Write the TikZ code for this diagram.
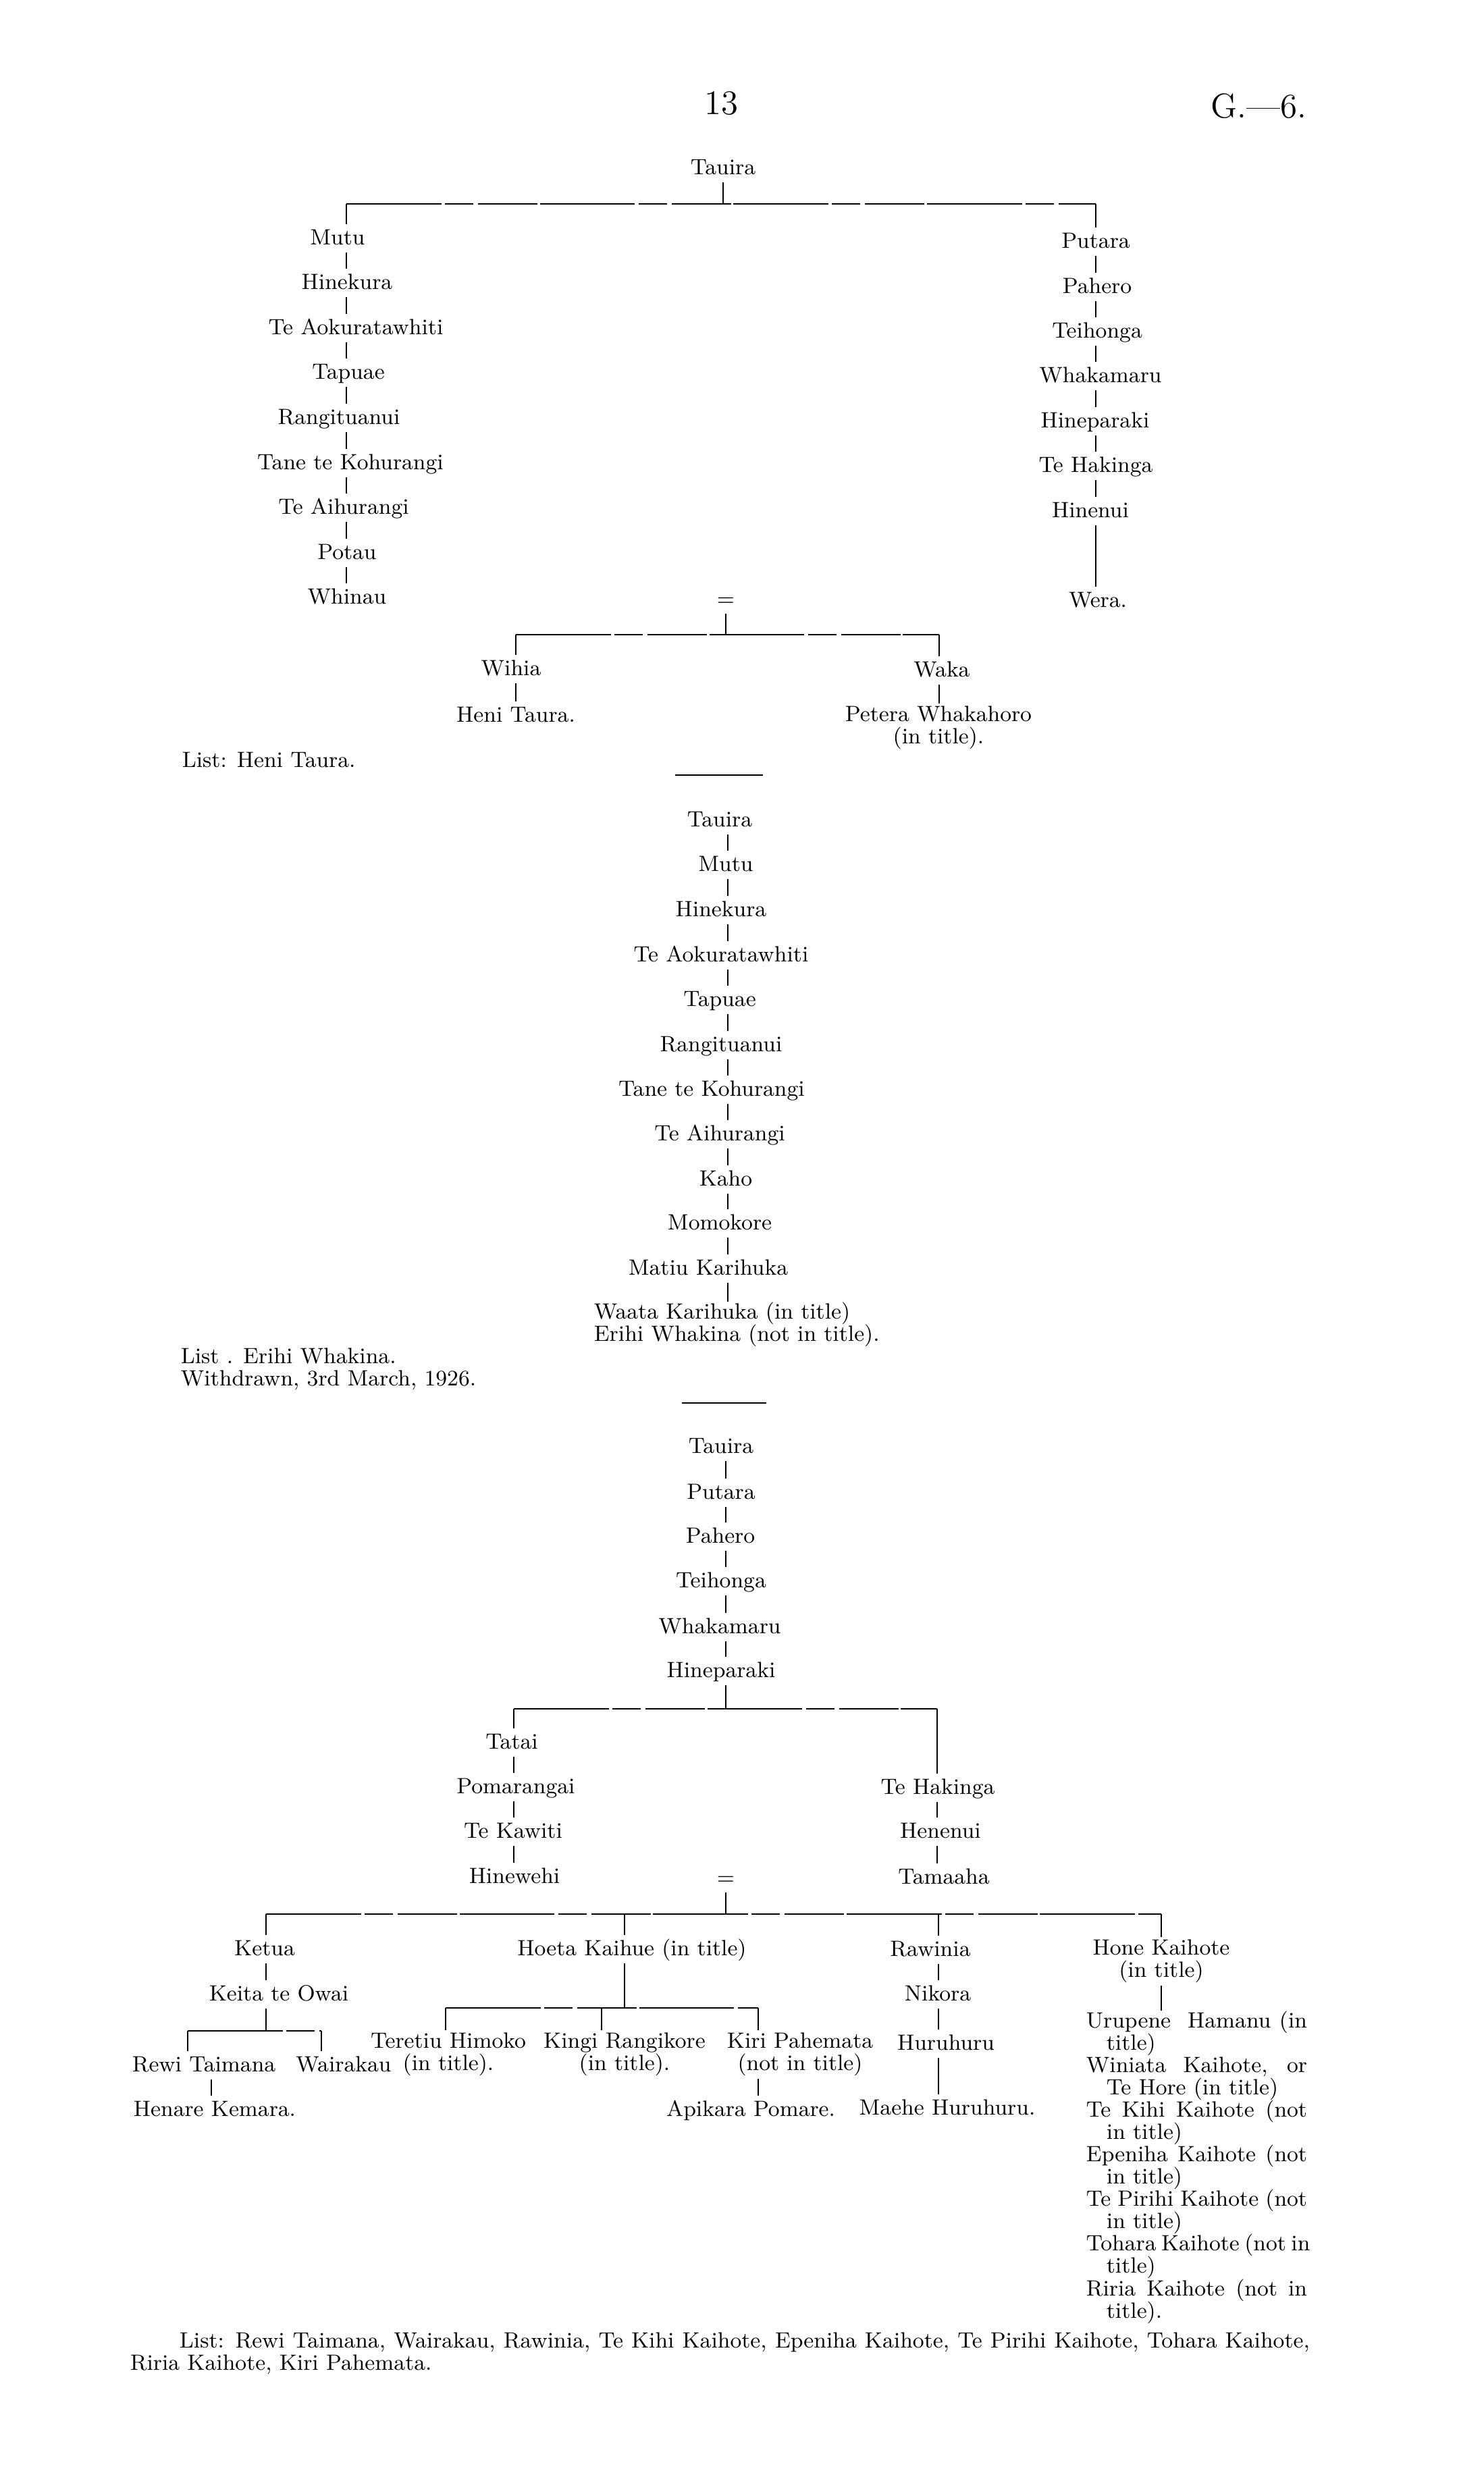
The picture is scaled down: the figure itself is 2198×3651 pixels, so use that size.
\documentclass[tikz,border=0pt]{standalone}
\usepackage{tikz}
\newcommand\genfont{\fontsize{9.3}{9.4}\selectfont}
\newcommand\headfont{\fontsize{14.5}{16}\selectfont}
\tikzset{
  person/.style={inner sep=1pt, text height=1.7ex, text depth=.45ex, font=\genfont},
  persons/.style={inner sep=1pt, align=center, font=\genfont},
  note/.style={inner sep=0pt, anchor=west, align=left, font=\genfont},
  bus/.style={line width=.4pt, dash pattern=on 40pt off 1.5pt on 12pt off 2pt on 25pt off 1pt},
  rule/.style={line width=.5pt}
}

\begin{document}
\begin{tikzpicture}[x=0.01cm, y=-0.01cm, line width=.5pt]
\fill[white] (0,0) rectangle (2198,3651);
\useasboundingbox (0,0) rectangle (2198,3651);

\node[font=\headfont, inner sep=0pt] (page) at (1068,153) {13};
\node[font=\headfont, inner sep=0pt] (series) at (1864,157) {G.---6.};

\node[person] (tauira1) at (1071,249) {Tauira};
\coordinate (bus1l) at (513,302);
\coordinate (bus1r) at (1623,302);
\draw[bus] (bus1l) -- (bus1r);
\draw (tauira1.south) -- (tauira1.south |- bus1l);

\node[person] (mutu1) at (500,353) {Mutu};
\node[person] (hinekura1) at (514,419) {Hinekura};
\node[person] (aoku1) at (527,486) {Te Aokuratawhiti};
\node[person] (tapuae1) at (516,552) {Tapuae};
\node[person] (rangi1) at (502,619) {Rangituanui};
\node[person] (tane1) at (519,686) {Tane te Kohurangi};
\node[person] (aihu1) at (509,752) {Te Aihurangi};
\node[person] (potau) at (514,819) {Potau};
\node[person] (whinau) at (514,885) {Whinau};
\draw (bus1l) -- (bus1l |- mutu1.north);
\draw (bus1l |- mutu1.south) -- (bus1l |- hinekura1.north);
\draw (bus1l |- hinekura1.south) -- (bus1l |- aoku1.north);
\draw (bus1l |- aoku1.south) -- (bus1l |- tapuae1.north);
\draw (bus1l |- tapuae1.south) -- (bus1l |- rangi1.north);
\draw (bus1l |- rangi1.south) -- (bus1l |- tane1.north);
\draw (bus1l |- tane1.south) -- (bus1l |- aihu1.north);
\draw (bus1l |- aihu1.south) -- (bus1l |- potau.north);
\draw (bus1l |- potau.south) -- (bus1l |- whinau.north);

\node[person] (putara1) at (1623,358) {Putara};
\node[person] (pahero1) at (1625,425) {Pahero};
\node[person] (teihonga1) at (1625,491) {Teihonga};
\node[person] (whaka1) at (1630,557) {Whakamaru};
\node[person] (hinep1) at (1622,624) {Hineparaki};
\node[person] (hakinga1) at (1623,690) {Te Hakinga};
\node[person] (hinenui) at (1615,757) {Hinenui};
\node[person] (wera) at (1626,890) {Wera.};
\draw (bus1r) -- (bus1r |- putara1.north);
\draw (bus1r |- putara1.south) -- (bus1r |- pahero1.north);
\draw (bus1r |- pahero1.south) -- (bus1r |- teihonga1.north);
\draw (bus1r |- teihonga1.south) -- (bus1r |- whaka1.north);
\draw (bus1r |- whaka1.south) -- (bus1r |- hinep1.north);
\draw (bus1r |- hinep1.south) -- (bus1r |- hakinga1.north);
\draw (bus1r |- hakinga1.south) -- (bus1r |- hinenui.north);
\draw (bus1r |- hinenui.south) -- (bus1r |- wera.north);

\node[person] (eq1) at (1075,888) {=};
\coordinate (bus2l) at (764,940);
\coordinate (bus2r) at (1391,940);
\draw[bus] (bus2l) -- (bus2r);
\draw (eq1.south) -- (eq1.south |- bus2l);
\node[person] (wihia) at (757,991) {Wihia};
\node[person] (heni) at (764,1060) {Heni Taura.};
\node[person] (waka) at (1395,993) {Waka};
\node[persons] (petera) at (1390,1078) {Petera Whakahoro\\(in title).};
\draw (bus2l) -- (bus2l |- wihia.north);
\draw (bus2l |- wihia.south) -- (bus2l |- heni.north);
\draw (bus2r) -- (bus2r |- waka.north);
\draw (bus2r |- waka.south) -- (bus2r |- petera.north);
\node[note] (list1) at (269,1125) {List: Heni Taura.};

\draw[rule] (1000,1148) -- (1130,1148);

\coordinate (col2) at (1078,1215);
\node[person] (tauira2) at (1066,1215) {Tauira};
\node[person] (mutu2) at (1075,1281) {Mutu};
\node[person] (hinekura2) at (1068,1348) {Hinekura};
\node[person] (aoku2) at (1068,1415) {Te Aokuratawhiti};
\node[person] (tapuae2) at (1066,1481) {Tapuae};
\node[person] (rangi2) at (1068,1548) {Rangituanui};
\node[person] (tane2) at (1054,1614) {Tane te Kohurangi};
\node[person] (aihu2) at (1066,1680) {Te Aihurangi};
\node[person] (kaho) at (1075,1747) {Kaho};
\node[person] (momokore) at (1066,1812) {Momokore};
\node[person] (matiu) at (1049,1879) {Matiu Karihuka};
\node[note] (waata) at (879,1962) {Waata Karihuka (in title)\\Erihi Whakina (not in title).};
\draw (col2 |- tauira2.south) -- (col2 |- mutu2.north);
\draw (col2 |- mutu2.south) -- (col2 |- hinekura2.north);
\draw (col2 |- hinekura2.south) -- (col2 |- aoku2.north);
\draw (col2 |- aoku2.south) -- (col2 |- tapuae2.north);
\draw (col2 |- tapuae2.south) -- (col2 |- rangi2.north);
\draw (col2 |- rangi2.south) -- (col2 |- tane2.north);
\draw (col2 |- tane2.south) -- (col2 |- aihu2.north);
\draw (col2 |- aihu2.south) -- (col2 |- kaho.north);
\draw (col2 |- kaho.south) -- (col2 |- momokore.north);
\draw (col2 |- momokore.south) -- (col2 |- matiu.north);
\draw (col2 |- matiu.south) -- (col2 |- waata.north);
\node[note] (list2) at (267,2028) {List . Erihi Whakina.\\Withdrawn, 3rd March, 1926.};

\draw[rule] (1010,2078) -- (1135,2078);

\coordinate (col3) at (1075,2143);
\node[person] (tauira3) at (1068,2143) {Tauira};
\node[person] (putara3) at (1068,2211) {Putara};
\node[person] (pahero3) at (1067,2276) {Pahero};
\node[person] (teihonga3) at (1068,2342) {Teihonga};
\node[person] (whaka3) at (1066,2410) {Whakamaru};
\node[person] (hinep3) at (1068,2475) {Hineparaki};
\draw (col3 |- tauira3.south) -- (col3 |- putara3.north);
\draw (col3 |- putara3.south) -- (col3 |- pahero3.north);
\draw (col3 |- pahero3.south) -- (col3 |- teihonga3.north);
\draw (col3 |- teihonga3.south) -- (col3 |- whaka3.north);
\draw (col3 |- whaka3.south) -- (col3 |- hinep3.north);
\coordinate (bus3l) at (761,2531);
\coordinate (bus3r) at (1388,2531);
\draw[bus] (bus3l) -- (bus3r);
\draw (col3 |- hinep3.south) -- (col3 |- bus3l);

\node[person] (tatai) at (758,2581) {Tatai};
\node[person] (pomarangai) at (764,2647) {Pomarangai};
\node[person] (kawiti) at (760,2713) {Te Kawiti};
\node[person] (hinewehi) at (762,2780) {Hinewehi};
\draw (bus3l) -- (bus3l |- tatai.north);
\draw (bus3l |- tatai.south) -- (bus3l |- pomarangai.north);
\draw (bus3l |- pomarangai.south) -- (bus3l |- kawiti.north);
\draw (bus3l |- kawiti.south) -- (bus3l |- hinewehi.north);

\node[person] (hakinga3) at (1389,2648) {Te Hakinga};
\node[person] (henenui) at (1393,2713) {Henenui};
\node[person] (tamaaha) at (1398,2781) {Tamaaha};
\draw (bus3r) -- (bus3r |- hakinga3.north);
\draw (bus3r |- hakinga3.south) -- (bus3r |- henenui.north);
\draw (bus3r |- henenui.south) -- (bus3r |- tamaaha.north);

\node[person] (eq3) at (1075,2782) {=};
\coordinate (bus4l) at (394,2835);
\coordinate (bus4b) at (925,2835);
\coordinate (bus4c) at (1390,2835);
\coordinate (bus4r) at (1720,2835);
\draw[bus] (bus4l) -- (bus4r);
\draw (eq3.south) -- (eq3.south |- bus4l);

\node[person] (ketua) at (392,2887) {Ketua};
\node[person] (keita) at (413,2954) {Keita te Owai};
\draw (bus4l) -- (bus4l |- ketua.north);
\draw (bus4l |- ketua.south) -- (bus4l |- keita.north);
\coordinate (bus5l) at (278,3008);
\coordinate (bus5r) at (476,3008);
\draw[bus] (bus5l) -- (bus5r);
\draw (bus4l |- keita.south) -- (bus4l |- bus5l);
\node[person] (rewi) at (302,3059) {Rewi Taimana};
\node[person] (wairakau) at (509,3059) {Wairakau};
\node[person] (henare) at (318,3125) {Henare Kemara.};
\draw (bus5l) -- (bus5l |- rewi.north);
\draw (bus5r) -- (bus5r |- wairakau.north);
\draw (313,0 |- rewi.south) -- (313,0 |- henare.north);

\node[person] (hoeta) at (936,2887) {Hoeta Kaihue (in title)};
\draw (bus4b) -- (bus4b |- hoeta.north);
\coordinate (bus6l) at (660,2974);
\coordinate (bus6b) at (891,2974);
\coordinate (bus6r) at (1123,2974);
\draw[bus] (bus6l) -- (bus6r);
\draw (bus4b |- hoeta.south) -- (bus4b |- bus6l);
\node[persons] (teretiu) at (664,3043) {Teretiu Himoko\\(in title).};
\node[persons] (kingi) at (925,3043) {Kingi Rangikore\\(in title).};
\node[persons] (kiri) at (1185,3043) {Kiri Pahemata\\(not in title)};
\node[person] (apikara) at (1112,3125) {Apikara Pomare.};
\draw (bus6l) -- (bus6l |- teretiu.north);
\draw (bus6b) -- (bus6b |- kingi.north);
\draw (bus6r) -- (bus6r |- kiri.north);
\draw (bus6r |- kiri.south) -- (bus6r |- apikara.north);

\node[person] (rawinia) at (1378,2888) {Rawinia};
\node[person] (nikora) at (1389,2954) {Nikora};
\node[person] (huruhuru) at (1401,3027) {Huruhuru};
\node[person] (maehe) at (1403,3123) {Maehe Huruhuru.};
\draw (bus4c) -- (bus4c |- rawinia.north);
\draw (bus4c |- rawinia.south) -- (bus4c |- nikora.north);
\draw (bus4c |- nikora.south) -- (bus4c |- huruhuru.north);
\draw (bus4c |- huruhuru.south) -- (bus4c |- maehe.north);

\node[persons] (hone) at (1720,2905) {Hone Kaihote\\(in title)};
\node[note] (honelist) at (1608,3210) {%
\makebox[3.27cm][s]{Urupene \ Hamanu (in}\\
\hspace*{.3cm}title)\\
\makebox[3.27cm][s]{Winiata Kaihote, or}\\
\hspace*{.3cm}Te Hore (in title)\\
\makebox[3.27cm][s]{Te Kihi Kaihote (not}\\
\hspace*{.3cm}in title)\\
\makebox[3.27cm][s]{Epeniha Kaihote (not}\\
\hspace*{.3cm}in title)\\
\makebox[3.27cm][s]{Te Pirihi Kaihote (not}\\
\hspace*{.3cm}in title)\\
\makebox[3.27cm][s]{Tohara Kaihote (not in}\\
\hspace*{.3cm}title)\\
\makebox[3.27cm][s]{Riria Kaihote (not in}\\
\hspace*{.3cm}title).};
\draw (bus4r) -- (bus4r |- hone.north);
\draw (bus4r |- hone.south) -- (bus4r |- honelist.north);

\node[note] (list3) at (192,3486) {%
\hspace*{.73cm}\makebox[16.73cm][s]{List: Rewi Taimana, Wairakau, Rawinia, Te Kihi Kaihote, Epeniha Kaihote, Te Pirihi Kaihote, Tohara Kaihote,}\\
Riria Kaihote, Kiri Pahemata.};
\end{tikzpicture}
\end{document}
